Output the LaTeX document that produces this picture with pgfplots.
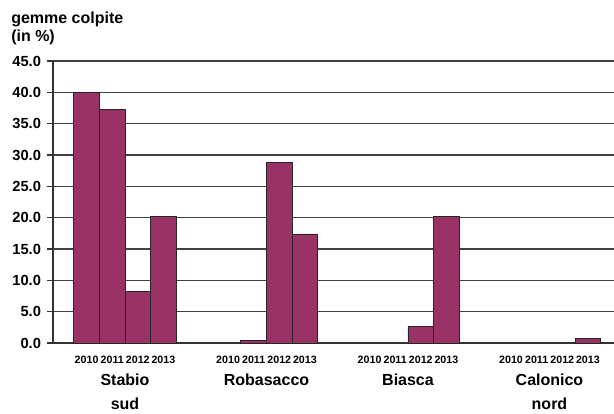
\documentclass[border=0pt]{standalone}
\usepackage{pgfplots}
\pgfplotsset{compat=1.18}
\usepackage{fontspec}
\setmainfont{Liberation Sans}
\definecolor{barcol}{RGB}{153,51,102}
\begin{document}
\begin{tikzpicture}
\useasboundingbox (-39.75pt,-53.25pt) rectangle (420.75pt,257.25pt);
\begin{axis}[
  scale only axis,
  width=420.75pt, height=211.5pt,
  at={(0,0)}, anchor=south west,
  xmin=-0.509, xmax=3.456,
  ymin=0, ymax=45,
  axis x line*=bottom,
  axis y line*=left,
  axis line style={black!80, line width=0.8pt},
  ytick={0,5,...,45},
  ymajorgrids,
  grid style={black!75, line width=0.8pt},
  tick align=outside,
  ytick style={black!80, line width=0.8pt},
  major tick length=4.5pt,
  /pgf/number format/assume math mode=true,
  /pgf/number format/.cd, fixed, fixed zerofill, precision=1, /pgfplots/.cd,
  yticklabel style={font=\fontsize{11}{12}\selectfont\bfseries, xshift=-1pt},
  xtick={-0.2715,-0.0905,0.0905,0.2715, 0.7285,0.9095,1.0905,1.2715, 1.7285,1.9095,2.0905,2.2715, 2.7285,2.9095,3.0905,3.2715},
  xticklabels={2010,2011,2012,2013,2010,2011,2012,2013,2010,2011,2012,2013,2010,2011,2012,2013},
  xtick style={draw=none},
  xticklabel style={font=\fontsize{8}{9}\selectfont\bfseries, yshift=-1.5pt},
  clip=false,
]
\addplot[ybar, bar width=0.181, fill=barcol, draw=black!85, line width=0.6pt] coordinates {
  (-0.2715,40.0) (-0.0905,37.2) (0.0905,8.2) (0.2715,20.2)
  (0.9095,0.4) (1.0905,28.8) (1.2715,17.4)
  (2.0905,2.6) (2.2715,20.2)
  (3.2715,0.7)
};
\begin{scope}[font=\fontsize{12}{14}\selectfont\bfseries]
\node[anchor=base] at (axis cs:0,0) [yshift=-32pt] {Stabio};
\node[anchor=base] at (axis cs:0,0) [yshift=-50pt] {sud};
\node[anchor=base] at (axis cs:1,0) [yshift=-32pt] {Robasacco};
\node[anchor=base] at (axis cs:2,0) [yshift=-32pt] {Biasca};
\node[anchor=base] at (axis cs:3,0) [yshift=-32pt] {Calonico};
\node[anchor=base] at (axis cs:3,0) [yshift=-50pt] {nord};
\end{scope}
\node[anchor=north west, align=left, font=\fontsize{12}{13.5}\selectfont\bfseries, inner sep=0pt]
  at (axis cs:-0.509,45) [xshift=-31.5pt, yshift=37pt] {gemme colpite\\(in \%)};
\end{axis}
\end{tikzpicture}
\end{document}
